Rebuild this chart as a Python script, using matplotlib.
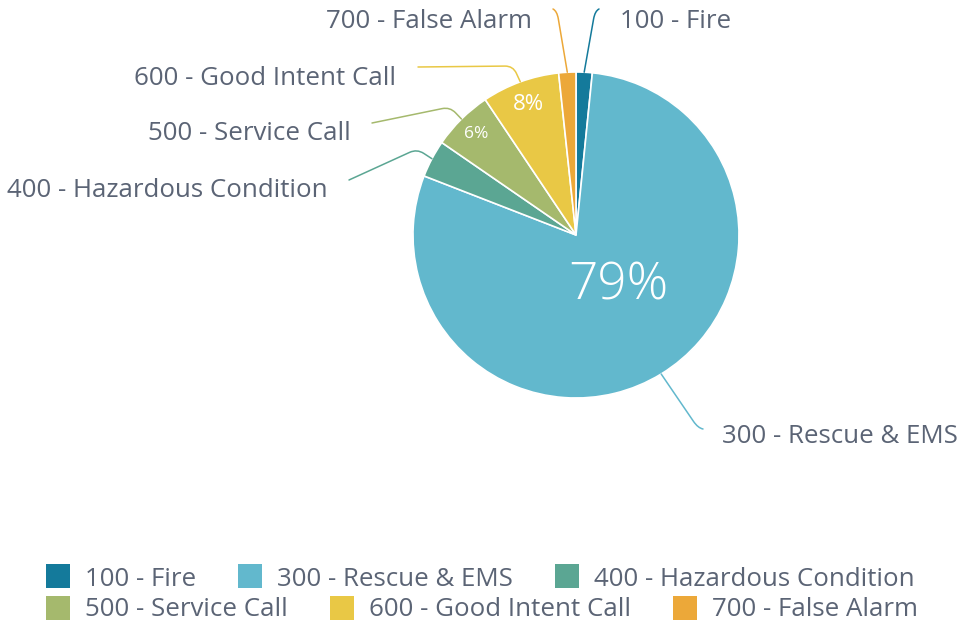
import matplotlib
matplotlib.use('Agg')
import matplotlib.pyplot as plt
from matplotlib.path import Path
from matplotlib.patches import PathPatch, Rectangle
import numpy as np

plt.rcParams['font.family'] = ['Open Sans', 'DejaVu Sans']

# data (share of incidents, %)
categories = ['100 - Fire', '300 - Rescue & EMS', '400 - Hazardous Condition',
              '500 - Service Call', '600 - Good Intent Call', '700 - False Alarm']
values = [1.6, 79.3, 3.7, 6.0, 7.7, 1.7]
colors = ['#147a9b', '#62b8cd', '#5ba693', '#a5b96d', '#e9c845', '#eca839']

TEXT = '#5b6475'
FS = 18.6
W, H = 960, 621
cx, cy, R = 576, 235, 163

fig = plt.figure(figsize=(W / 100, H / 100), dpi=100)
ax = fig.add_axes([0, 0, 1, 1])

# y axis is flipped (pixel style), so counterclock=True draws clockwise on screen
ax.pie(values, colors=colors, startangle=270, counterclock=True,
       center=(cx, cy), radius=R,
       wedgeprops=dict(edgecolor='white', linewidth=1.2))
ax.set_xlim(0, W)
ax.set_ylim(H, 0)
ax.set_aspect('equal')
ax.axis('off')

total = sum(values)
cum = np.cumsum([0] + values[:-1])
mid = [360 * (c + v / 2) / total for c, v in zip(cum, values)]  # clockwise from top


def polar(a, r):
    a = np.radians(a)
    return np.array([cx + r * np.sin(a), cy - r * np.cos(a)])


# inner percentage labels
ax.text(618, 286, f'{round(values[1])}%', color='white', fontsize=37,
        ha='center', va='center', fontweight='light')
for i, rf, fs in [(3, 0.87, 12.5), (4, 0.85, 16)]:
    x, y = polar(mid[i], R * rf)
    ax.text(x, y, f'{round(values[i])}%', color='white', fontsize=fs,
            ha='center', va='center')

# outer labels: text x, baseline y, alignment, connector corner, connector end
label_x = [620, 722, 328, 351, 396, 532]
label_y = [28, 443, 197, 140, 85, 28]
label_ha = ['left', 'left', 'right', 'right', 'right', 'right']
corners = [(595, 11), (698, 428), (417, 149), (450, 107), (513, 66), (557, 11)]
ends = [(599, 9), (703, 429), (349, 180), (372, 123), (418, 67), (553, 9)]

for i in range(len(values)):
    edge = polar(mid[i], R)
    c = np.array(corners[i], float)
    e = np.array(ends[i], float)
    r = 8
    u1 = (edge - c) / np.linalg.norm(edge - c)
    u2 = (e - c) / np.linalg.norm(e - c)
    a = c + u1 * min(r, np.linalg.norm(edge - c))
    b = c + u2 * min(r, np.linalg.norm(e - c))
    verts = [edge, a, c, b, e]
    codes = [Path.MOVETO, Path.LINETO, Path.CURVE3, Path.CURVE3, Path.LINETO]
    ax.add_patch(PathPatch(Path(verts, codes), fill=False, edgecolor=colors[i],
                           linewidth=1.1, capstyle='round'))
    ax.text(label_x[i], label_y[i], categories[i], color=TEXT, fontsize=FS,
            ha=label_ha[i], va='baseline')

# legend, flowed like the original (3 items per row)
fig.canvas.draw()
renderer = fig.canvas.get_renderer()
rows = [(0, 3, 586, 564), (3, 6, 616, 596)]
for start, stop, base, top in rows:
    x = 46
    for i in range(start, stop):
        ax.add_patch(Rectangle((x, top), 24, 24, color=colors[i], lw=0))
        t = ax.text(x + 39, base, categories[i], color=TEXT, fontsize=FS,
                    ha='left', va='baseline')
        bb = t.get_window_extent(renderer)
        x = x + 39 + bb.width + 42

fig.savefig('out.png', dpi=100)
